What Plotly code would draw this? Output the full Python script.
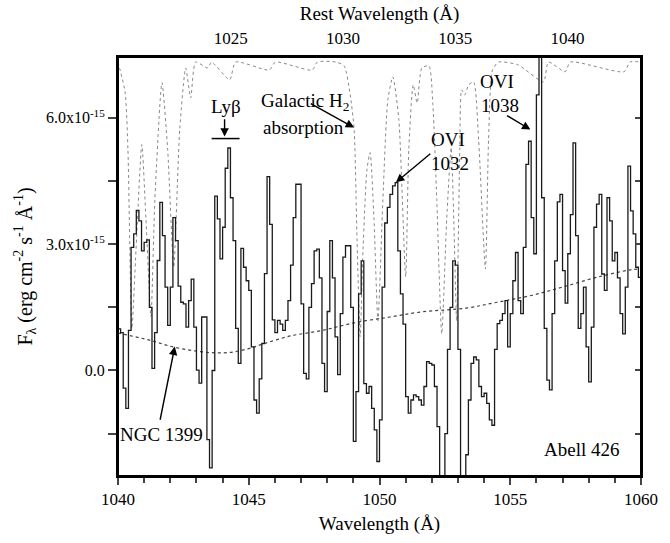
import plotly.graph_objects as go

# ---------------- data (flux in units of 1e-15 erg cm^-2 s^-1 A^-1) ----------------
wl_start = 1040.0
bin_width = 0.1
flux = [
    0.99, 0.90, -0.42, -0.90, 0.95, 2.92, 3.24, 3.80, 3.55, 2.84,
    3.04, 3.10, 1.50, 0.05, 0.90, 2.61, 3.99, 3.20, 1.98, 1.07,
    1.98, 3.63, 3.08, 2.00, 1.62, 1.58, 1.03, 1.66, 2.17, 1.03,
    0.01, -0.30, 1.27, 1.27, -1.64, -2.31, 0.00, 4.14, 3.60, 2.65,
    3.40, 4.80, 5.28, 4.10, 3.08, 1.00, 0.17, 2.90, 2.45, 2.13,
    1.90, 0.56, -0.70, -1.01, -0.20, 0.64, 2.30, 4.60, 3.47, 1.20,
    0.90, 1.19, 1.10, 0.95, 1.19, 1.66, 2.50, 3.63, 4.42, 4.42,
    1.58, -0.07, -0.20, 1.50, 2.06, 2.84, 2.88, 2.20, 0.17, -0.50,
    1.40, 3.08, 2.20, 0.80, -0.10, 1.35, 2.69, 2.96, 2.96, 1.50,
    -1.68, -0.50, 1.82, 2.60, -0.31, -0.54, -0.38, -0.90, -1.41, -2.16,
    -1.17, 1.98, 3.50, 3.87, 4.18, 4.38, 4.46, 2.84, 1.82, 1.10,
    -0.62, -1.01, -0.70, -0.58, -0.62, -0.70, -0.82, -0.38, 0.21, 0.17,
    0.13, -0.38, -1.33, -3.20, -3.20, -1.50, 0.50, 1.50, 2.60, 2.50,
    0.50, -3.20, -3.20, -2.00, -0.70, 0.17, 0.32, 0.25, -0.38, -0.62,
    -0.54, -0.78, -1.17, -1.30, 0.50, 1.11, 1.19, 1.35, 1.66, 0.56,
    1.35, 2.13, 2.80, 1.66, 1.35, 2.92, 4.89, 5.44, 3.63, 2.77,
    6.54, 7.60, 4.10, 1.00, -0.23, -0.46, 1.35, 2.60, 4.00, 4.18,
    2.37, 1.60, 2.77, 3.70, 5.40, 3.20, 1.00, 1.35, 1.98, 0.56,
    -0.27, 1.03, 3.40, 3.95, 4.18, 2.29, 1.90, 4.10, 3.55, 2.60,
    2.80, 2.20, 1.35, 0.87, 1.98, 4.85, 3.79, 3.24, 2.45, 2.21,
]
wavelength = [round(wl_start + bin_width * i, 2) for i in range(len(flux))]

# NGC 1399 template (dotted)
ngc_wl = [1040.0, 1041.2, 1042.1, 1043.0, 1043.7, 1044.3, 1045.0, 1045.6, 1046.6,
          1047.8, 1049.1, 1050.4, 1051.6, 1053.3, 1054.5, 1055.8, 1057.0, 1058.3,
          1059.6, 1060.0]
ngc_fl = [0.89, 0.72, 0.56, 0.46, 0.42, 0.43, 0.52, 0.64, 0.82,
          0.95, 1.14, 1.27, 1.39, 1.48, 1.62, 1.78, 1.98, 2.21,
          2.39, 2.41]

# Galactic H2 absorption model (dotted, scaled to plot)
h2_wl = [1040.00, 1040.27, 1040.38, 1040.53, 1040.69, 1040.91, 1041.07, 1041.26, 1041.41,
         1041.68, 1041.90, 1042.13, 1042.36, 1042.59, 1042.78, 1042.97, 1043.43, 1043.58,
         1044.27, 1044.50, 1045.79, 1046.02, 1047.43, 1047.62, 1048.34, 1048.65, 1048.88,
         1049.03, 1049.14, 1049.26, 1049.37, 1049.52, 1049.64, 1049.79, 1049.94, 1050.13,
         1050.32, 1050.51, 1050.74, 1051.00, 1051.12, 1051.29, 1051.44, 1051.62, 1051.89,
         1052.04, 1052.19, 1052.38, 1052.57, 1052.74, 1052.84, 1052.95, 1053.07, 1053.14,
         1053.26, 1053.41, 1053.60, 1053.79, 1054.05, 1054.17, 1054.32, 1054.55, 1055.31,
         1056.27, 1056.46, 1057.10, 1057.30, 1059.35, 1059.58, 1060.00]
h2_fl = [7.32, 6.61, 5.24, 0.99, 2.88, 5.36, 3.59, 1.28, 4.06,
         6.83, 5.24, 2.46, 5.72, 7.18, 6.47, 7.32, 7.18, 7.32,
         6.90, 7.32, 7.13, 7.32, 7.13, 7.32, 7.32, 7.23, 6.54,
         5.72, 3.12, 0.80, 2.88, 4.77, 5.17, 3.59, 1.18, 4.06,
         6.43, 6.97, 5.95, 2.22, 5.24, 6.78, 6.35, 7.18, 7.23,
         6.31, 4.06, 0.87, 3.59, 5.29, 3.59, 1.18, 5.24, 6.66,
         6.54, 6.78, 6.85, 5.48, 2.41, 5.48, 7.13, 7.32, 7.25,
         6.85, 7.32, 7.09, 7.32, 7.09, 7.32, 7.32]

y_ticks = [0.0, 3.0, 6.0]
y_ticktext = ["0.0", "3.0x10<sup>-15</sup>", "6.0x10<sup>-15</sup>"]
x_ticks = [1040, 1045, 1050, 1055, 1060]
rest_ticks = [1025, 1030, 1035, 1040]

FONT = "Liberation Serif, Times New Roman, serif"

fig = go.Figure()

fig.add_trace(go.Scatter(x=h2_wl, y=h2_fl, mode="lines",
                         line=dict(color="#888", width=1, dash="dot", shape="spline", smoothing=0.6),
                         showlegend=False, hoverinfo="skip"))
fig.add_trace(go.Scatter(x=ngc_wl, y=ngc_fl, mode="lines",
                         line=dict(color="#444", width=1.2, dash="dot", shape="spline"),
                         showlegend=False, hoverinfo="skip"))
fig.add_trace(go.Scatter(x=wavelength + [wavelength[-1] + bin_width], y=flux + [flux[-1]], mode="lines",
                         line=dict(color="#1a1a1a", width=1.3, shape="hv"), showlegend=False))
# helper traces so the top axis and right axis are drawn
fig.add_trace(go.Scatter(x=[1030], y=[0], xaxis="x2", yaxis="y", mode="markers", marker=dict(opacity=0),
                         showlegend=False, hoverinfo="skip"))
fig.add_trace(go.Scatter(x=[1050], y=[0], xaxis="x", yaxis="y2", mode="markers", marker=dict(opacity=0),
                         showlegend=False, hoverinfo="skip"))

yr = [-2.504, 7.44]
fig.update_layout(
    width=670, height=543, autosize=False,
    margin=dict(l=118, r=27, t=57, b=65),
    paper_bgcolor="white", plot_bgcolor="white",
    font=dict(family=FONT, color="black", size=17),
    xaxis=dict(range=[1040, 1060], tickvals=x_ticks, ticks="outside", ticklen=7, tickwidth=1.5,
               minor=dict(dtick=1, ticks="outside", ticklen=5, tickwidth=1.5, tick0=1040),
               showline=True, linewidth=2, linecolor="black", mirror=False, showgrid=False, zeroline=False,
               title=dict(text="Wavelength (Å)", font=dict(size=19), standoff=8), tickfont=dict(size=17)),
    xaxis2=dict(overlaying="x", side="top", range=[1019.98, 1043.28], tickvals=rest_ticks, ticks="",
                showline=True, linewidth=2, linecolor="black", showgrid=False, zeroline=False,
                title=dict(text="Rest Wavelength (Å)", font=dict(size=19), standoff=4), tickfont=dict(size=17),
                ticklabelstandoff=4),
    yaxis=dict(range=yr, tickvals=y_ticks, ticktext=y_ticktext, ticks="outside", ticklen=8, tickwidth=1.5,
               minor=dict(tickvals=[-1.5, 1.5, 4.5], ticks="outside", ticklen=8, tickwidth=1.5),
               showline=True, linewidth=2, linecolor="black", showgrid=False, zeroline=False,
               title=dict(text="F<sub>λ</sub> (erg cm<sup>-2</sup> s<sup>-1</sup> Å<sup>-1</sup>)",
                          font=dict(size=20), standoff=8),
               tickfont=dict(size=16)),
    yaxis2=dict(overlaying="y", side="right", matches="y", range=yr, tickvals=[-1.5, 0, 1.5, 3, 4.5, 6],
                ticks="inside", ticklen=6, tickwidth=1.5, showticklabels=False, showline=True, linewidth=2,
                linecolor="black", showgrid=False, zeroline=False),
)

def lam(px):
    return 1040 + (px - 118) / 26.25

def val(py):
    return (372 - py) / 42.33

texts = [
    ("Lyβ", 226, 107, 19),
    ("Galactic H<sub>2</sub>", 306, 102, 19),
    ("absorption", 304, 128, 19),
    ("OVI", 449, 140, 19),
    ("1032", 451, 164, 19),
    ("OVI", 498, 82, 19),
    ("1038", 501, 106, 19),
    ("NGC 1399", 162, 436, 19),
    ("Abell 426", 583, 451, 19),
]
for t, px, py, fs in texts:
    fig.add_annotation(x=lam(px), y=val(py), text=t, showarrow=False, xref="x", yref="y",
                       font=dict(size=fs, family=FONT), xanchor="center", yanchor="middle")

arrows = [
    ((225, 118), (225, 137)),
    ((310, 103), (355, 128)),
    ((433, 153), (397, 183)),
    ((507, 115), (532, 130)),
    ((160, 423), (175, 348)),
]
for (tx, ty), (hx, hy) in arrows:
    fig.add_annotation(x=lam(hx), y=val(hy), ax=lam(tx), ay=val(ty), xref="x", yref="y", axref="x", ayref="y",
                       text="", showarrow=True, arrowhead=2, arrowsize=1.2, arrowwidth=1.4, arrowcolor="black",
                       font=dict(size=12, family=FONT))

fig.add_shape(type="line", x0=lam(212), x1=lam(240), y0=val(139), y1=val(139), xref="x", yref="y",
              line=dict(color="black", width=1.5))
# plot frame
fig.add_shape(type="rect", x0=0, x1=1, y0=0, y1=1, xref="paper", yref="paper",
              line=dict(color="black", width=2), fillcolor="rgba(0,0,0,0)", layer="above")

fig.write_html("out.html")
